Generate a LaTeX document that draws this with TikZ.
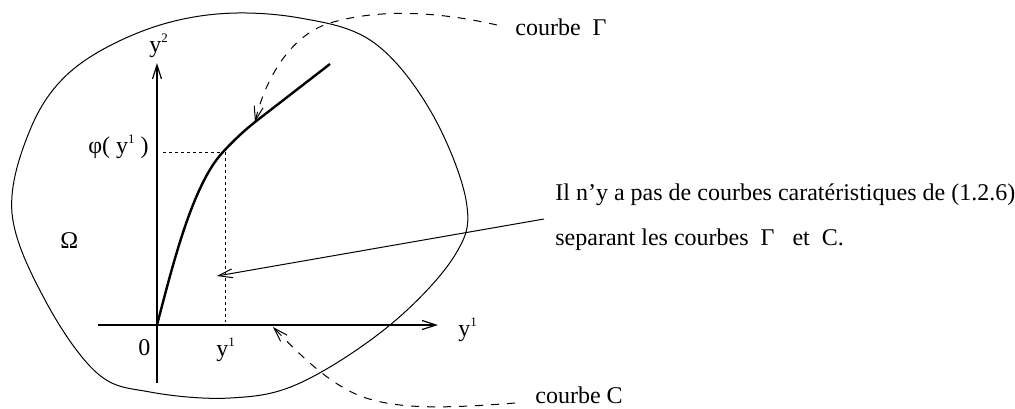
\documentclass[tikz,border=0pt]{standalone}
\usepackage{fontspec}
\setmainfont{Liberation Serif}
\usetikzlibrary{arrows.meta}
\newcommand\mysupr[1]{\raisebox{0.85ex}{\fontsize{6.5}{7}\selectfont #1}}
\begin{document}
\begin{tikzpicture}[x=0.5pt,y=-0.5pt,
  outline/.style={line width=0.5pt},
  axisline/.style={line width=0.6pt,-{Straight Barb[length=7pt,width=4.5pt]}},
  thickcurve/.style={line width=1.2pt},
  guide/.style={line width=0.5pt,dash pattern=on 1.5pt off 1.5pt},
  dashcurve/.style={line width=0.5pt,dash pattern=on 4pt off 4pt,-{Straight Barb[length=7pt,width=4.5pt]}},
  solidarrow/.style={line width=0.5pt,-{Straight Barb[length=7pt,width=4.5pt]}},
  lbl/.style={inner sep=0pt,font=\fontsize{12}{14}\selectfont,anchor=base west},
]
\useasboundingbox (0,0) rectangle (1015,408);

% domain boundary
\draw[outline] plot[smooth cycle,tension=0.6] coordinates {
 (217,14) (300,18) (373,42) (430,110) (466,200) (455,255) (390,325)
 (300,383) (230,398) (150,392) (97,373) (45,300) (12,213) (30,130) (70,72) (140,32)};

% coordinates
\coordinate (O) at (157,325);
\coordinate (ybot) at (157,383);
\coordinate (ytop) at (157,63);
\coordinate (xleft) at (98,325);
\coordinate (xright) at (438,325);
\coordinate (P) at (223,152);
\coordinate (Q) at (255,122);
\coordinate (R) at (330,64);
\coordinate (Cend) at (378,325);
\coordinate (Pax) at (163,152);
\coordinate (Pfoot) at (225,322);
\coordinate (Ptop) at (225,152);
\coordinate (Ctip) at (273,327);
\coordinate (Atip) at (217,276);
\coordinate (Astart) at (544,219);

% axes
\draw[axisline] (ybot) -- (ytop);
\draw[axisline] (xleft) -- (xright);

% dotted guides
\draw[guide] (Pax) -- (P);
\draw[guide] (Ptop) -- (Pfoot);

% curves Gamma and C
\draw[thickcurve] (O) .. controls (172,268) and (192,185) .. (P)
  .. controls (235,139) and (245,130) .. (Q) -- (R);
\draw[thickcurve] (O) -- (Cend);

% labels
\node[lbl] (ly2) at (149,52) {y\mysupr{2}};
\node[lbl] (ly1r) at (458,336) {y\mysupr{1}};
\node[lbl] (l0) at (138,355) {0};
\node[lbl] (ly1b) at (216,356) {y\mysupr{1}};
\node[lbl] (lphi) at (88,153) {φ( y\mysupr{1} )};
\node[lbl] (lOmega) at (60,248) {Ω};

\node[lbl] (lgam) at (515,35) {courbe\ \ Γ};
\node[lbl] (lC) at (535,403) {courbe C};
\node[lbl] (t1) at (555,200) {Il n’y a pas de courbes caratéristiques de (1.2.6)};
\node[lbl] (t2) at (555,245) {separant les courbes\ \ Γ\ \ \ et\ \ C.};

% dashed pointers
\coordinate (gstart) at (497,25);
\coordinate (cstart) at (515,403);
\draw[dashcurve] (gstart) .. controls (440,12) and (380,8) .. (330,23)
  .. controls (290,35) and (265,80) .. (Q);
\draw[dashcurve] (cstart) .. controls (450,408) and (400,410) .. (363,397)
  .. controls (330,385) and (300,355) .. (Ctip);

% solid pointer
\draw[solidarrow] (Astart) -- (Atip);
\end{tikzpicture}
\end{document}
